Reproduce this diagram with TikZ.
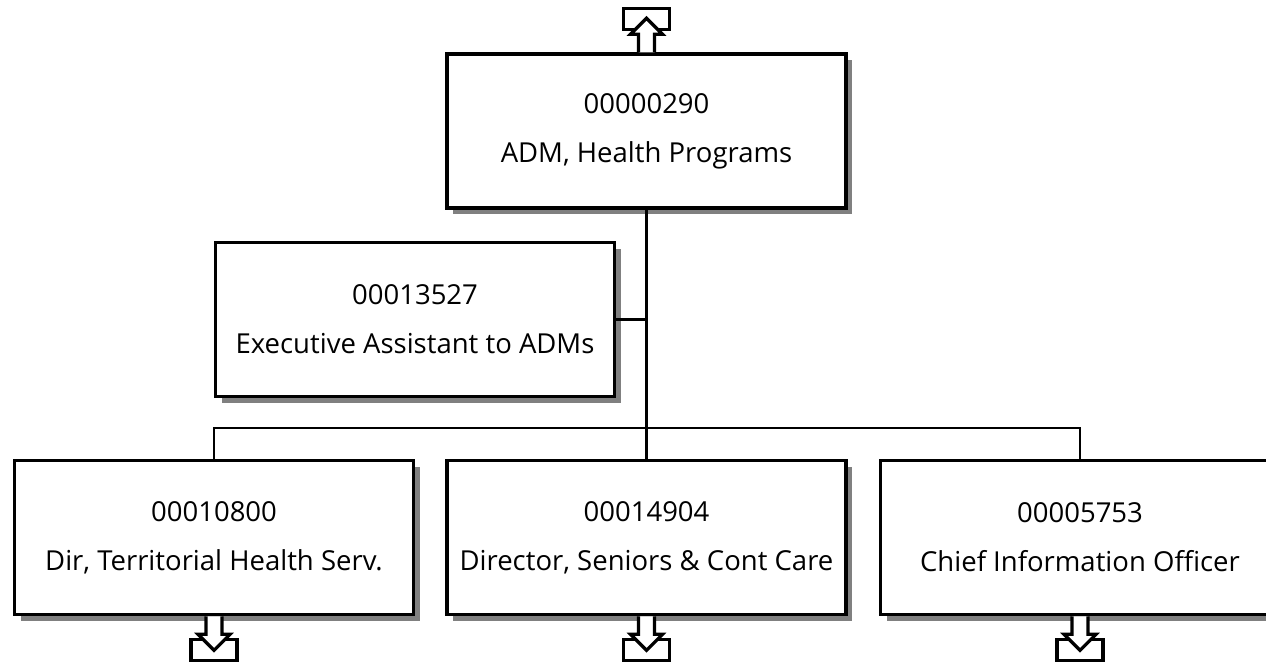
\documentclass[tikz,border=0pt]{standalone}
\usepackage{fontspec}
\setmainfont{Open Sans}
\usetikzlibrary{shadows}

\tikzset{
  posbox/.style={draw, line width=3.5pt, fill=white,
    minimum width=399pt, minimum height=154pt, align=center,
    font=\fontsize{27.5}{49}\selectfont,
    drop shadow={shadow xshift=6pt, shadow yshift=-6pt, fill=black!50, opacity=1}},
  link/.style={line width=2.5pt},
  pics/subicon/.style={code={
    \draw[line width=3.2pt, fill=white] (-23,23) rectangle (23,44);
    \draw[line width=3.2pt, fill=white] (-8,0) -- (-8,18) -- (-16,18) -- (0,34) -- (16,18) -- (8,18) -- (8,0);
  }}
}

\begin{document}
\begin{tikzpicture}[x=1pt, y=-1pt]
    \useasboundingbox (0,0) rectangle (1266,662);

    % Positions
    \node[posbox] (adm)  at (646.5,131)   {00000290\\ADM, Health Programs};
    \node[posbox] (asst) at (415,319.5)   {00013527\\Executive Assistant to ADMs};
    \node[posbox] (ths)  at (214,537.5)   {00010800\\Dir, Territorial Health Serv.};
    \node[posbox] (dsc)  at (646.5,537.5) {00014904\\Director, Seniors \& Cont Care};
    \node[posbox] (cio)  at (1080,537.5)  {00005753\\Chief Information Officer};

    % Reporting lines
    \coordinate (fork) at (646.5,428);
    \draw[link] (adm.south) -- (fork);
    \draw[link] (asst.east) -- (asst.east -| fork);
    \draw[link] (ths.north) |- (fork) -| (cio.north);
    \draw[link] (fork) -- (dsc.north);

    % Link icons
    \pic[yscale=-1] at (adm.north) {subicon};
    \pic at (ths.south) {subicon};
    \pic at (dsc.south) {subicon};
    \pic at (cio.south) {subicon};
\end{tikzpicture}
\end{document}
